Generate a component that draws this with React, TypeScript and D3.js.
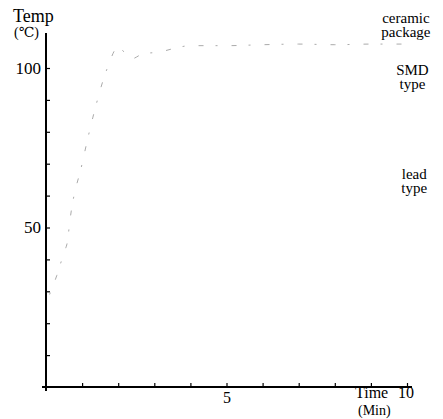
import React, { useRef, useEffect } from 'react';
import * as d3 from 'd3';

// faded reflow profile
const timeMin = [0.1, 0.3, 0.44, 0.53, 0.6, 0.65, 1.0, 1.3, 1.7, 2.0, 2.2, 2.35, 2.7, 3.15, 3.5, 4.0, 5.0, 6.0, 7.0, 8.0, 9.0, 10.0];
const tempC = [29, 35, 40, 43, 46, 51, 70, 84.6, 100, 106.6, 104.5, 102.8, 104.5, 105, 106, 107, 107, 107.3, 107.5, 107.3, 107.5, 107.5];

const yTicks = [10, 20, 30, 40, 50, 60, 70, 80, 90, 100];
const yLabels = [50, 100];
const xTicks = [1, 2, 3, 4, 5, 6, 7, 8, 9, 10];
const xLabels = [5];

const seriesLabels = [
  { lines: ['ceramic', 'package'], t: 9.97, v: 114.1 },
  { lines: ['SMD', 'type'], t: 10.15, v: 97.8 },
  { lines: ['lead', 'type'], t: 10.2, v: 65.2 },
];

const App = () => {
  const svgRef = useRef<SVGSVGElement>(null);

  useEffect(() => {
    const width = 443;
    const height = 419;
    const svg = d3.select(svgRef.current).attr('width', width).attr('height', height);
    svg.selectAll('*').remove();

    const x = d3.scaleLinear().domain([0, 10]).range([46, 407]);
    const y = d3.scaleLinear().domain([0, 100]).range([387, 68]);
    const font = '"Liberation Serif", "DejaVu Serif", serif';

    // y axis
    const yAxis = d3
      .axisLeft(y)
      .tickValues(yTicks)
      .tickSizeInner(-4)
      .tickSizeOuter(0)
      .tickPadding(5)
      .tickFormat((d) => (yLabels.includes(d as number) ? String(d) : ''));
    const gy = svg.append('g').attr('transform', `translate(${x(0)},0)`).call(yAxis);
    gy.select('.domain').remove();
    gy.selectAll('.tick line').attr('stroke', '#000').attr('stroke-width', 1.2);
    gy.selectAll('.tick text').attr('font-family', font).attr('font-size', 17).attr('fill', '#000');
    svg
      .append('line')
      .attr('x1', x(0))
      .attr('x2', x(0))
      .attr('y1', y(111))
      .attr('y2', y(0) + 4)
      .attr('stroke', '#000')
      .attr('stroke-width', 2);

    // x axis
    const xAxis = d3
      .axisBottom(x)
      .tickValues(xTicks)
      .tickSizeInner(-4)
      .tickSizeOuter(0)
      .tickPadding(5)
      .tickFormat((d) => (xLabels.includes(d as number) ? String(d) : ''));
    const gx = svg.append('g').attr('transform', `translate(0,${y(0)})`).call(xAxis);
    gx.select('.domain').remove();
    gx.selectAll('.tick line').attr('stroke', '#000').attr('stroke-width', 1.2);
    gx.selectAll('.tick text').attr('font-family', font).attr('font-size', 16).attr('fill', '#000');
    svg
      .append('line')
      .attr('x1', x(0) - 4)
      .attr('x2', x(10) + 5)
      .attr('y1', y(0))
      .attr('y2', y(0))
      .attr('stroke', '#000')
      .attr('stroke-width', 2);

    // axis titles
    svg.append('text').attr('x', 13).attr('y', 22).attr('font-family', font).attr('font-size', 18).text('Temp');
    svg.append('text').attr('x', 14).attr('y', 37).attr('font-family', font).attr('font-size', 14).text('(℃)');
    svg.append('text').attr('x', 355).attr('y', 398).attr('font-family', font).attr('font-size', 16).text('Time');
    svg.append('text').attr('x', 398).attr('y', 398).attr('font-family', font).attr('font-size', 16).text('10');
    svg.append('text').attr('x', 358).attr('y', 415).attr('font-family', font).attr('font-size', 14).text('(Min)');

    // faded curve
    const line = d3
      .line<number>()
      .x((d, i) => x(timeMin[i]))
      .y((d) => y(d))
      .curve(d3.curveMonotoneX);
    svg
      .append('path')
      .datum(tempC)
      .attr('d', line)
      .attr('fill', 'none')
      .attr('stroke', '#aaa')
      .attr('stroke-width', 1)
      .attr('stroke-dasharray', '2,14,5,12');

    // series labels, one text per line
    seriesLabels.forEach((s) => {
      s.lines.forEach((l, i) => {
        svg
          .append('text')
          .attr('x', x(s.t))
          .attr('y', y(s.v) + i * 14)
          .attr('text-anchor', 'middle')
          .attr('font-family', font)
          .attr('font-size', 15)
          .text(l);
      });
    });
  }, []);

  return (
    <div style={{ position: 'absolute', left: 0, top: 0 }}>
      <svg ref={svgRef} style={{ display: 'block', background: '#fff' }}></svg>
    </div>
  );
};

export default App;
